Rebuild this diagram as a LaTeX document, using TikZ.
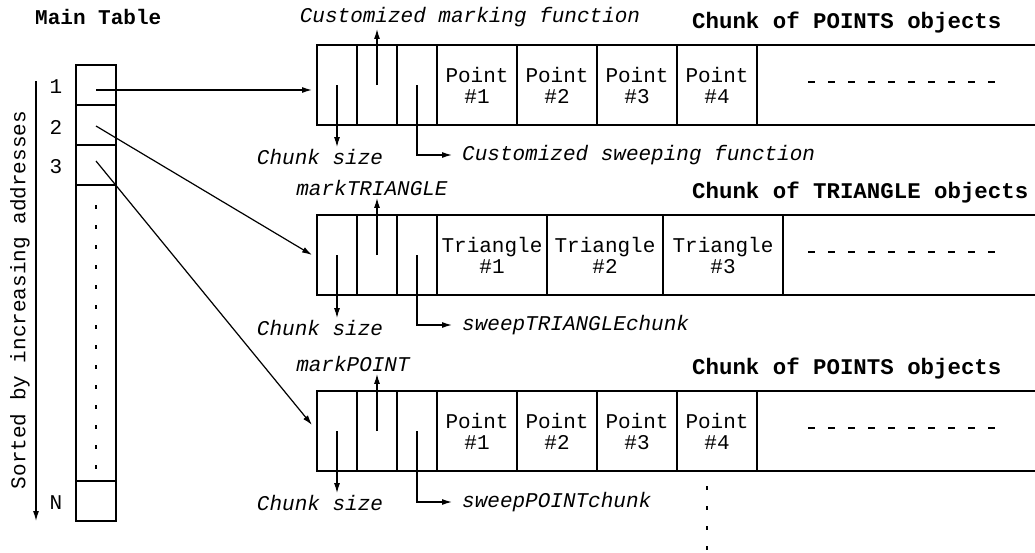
\documentclass[tikz,border=0pt]{standalone}
\usepackage{fontspec}
\setmonofont{Liberation Mono}
\usetikzlibrary{calc, arrows.meta}

\tikzset{
	tcell/.style = {draw, line width=1.2pt, minimum width=40pt, inner sep=0pt, outer sep=0pt},
	hcell/.style = {draw, line width=1.2pt, minimum width=40pt, minimum height=80pt, inner sep=0pt, outer sep=0pt},
	ocell/.style = {draw, line width=2.8pt, minimum height=80pt, inner sep=0pt, outer sep=0pt, align=center, font=\ttfamily\fontsize{21}{21}\selectfont},
	lbl/.style = {font=\ttfamily\itshape\fontsize{21}{21}\selectfont, inner sep=2pt},
	num/.style = {font=\ttfamily\fontsize{21}{21}\selectfont, inner sep=0pt},
	ttl/.style = {font=\ttfamily\bfseries\fontsize{22.4}{22}\selectfont, anchor=west, inner sep=0pt},
	ptr/.style = {-{Latex[length=10pt, width=6pt]}, line width=1.2pt},
	dotline/.style = {line width=2.5pt, dash pattern=on 4pt off 16pt},
	dashline/.style = {line width=2.6pt, dash pattern=on 7pt off 13pt},
}

\begin{document}
\begin{tikzpicture}[x=1pt, y=-1pt]
	\useasboundingbox (0,0) rectangle (1035,552);

	\node[ttl, font=\ttfamily\bfseries\fontsize{21}{21}\selectfont] (maintitle) at (35,17) {Main Table};

	\node[tcell, minimum height=40pt] (t1) at (96,85) {};
	\node[tcell, minimum height=40pt] (t2) at (96,125) {};
	\node[tcell, minimum height=40pt] (t3) at (96,165) {};
	\node[tcell, minimum height=296pt] (tdots) at (96,333) {};
	\node[tcell, minimum height=40pt] (tN) at (96,501) {};
	\draw[dotline] (96,205) -- (96,472);

	\node[num] (n1) at (56,87) {1};
	\node[num] (n2) at (56,127) {2};
	\node[num] (n3) at (56,167) {3};
	\node[num] (nN) at (56,503) {N};

	\coordinate (sorttop) at (36,81);
	\coordinate (sortbot) at (36,521);
	\draw[ptr] (sorttop) -- (sortbot);
	\node[num, rotate=90] (sortlbl) at (20,300) {Sorted by increasing addresses};

	% chunk of points
	\node[ttl] (title1) at (692,23) {Chunk of POINTS objects};
	\foreach \i in {1,2,3}
		\node[hcell] (ha\i) at ({297+40*\i}, 85) {};
	\foreach \i in {1,...,4}
		\node[ocell, minimum width=80pt] (pa\i) at ({397+80*\i}, 85) {Point\\\#\i};
	\draw[line width=2.8pt] (pa4.north east) -- (1037,45);
	\draw[line width=2.8pt] (pa4.south east) -- (1037,125);
	\draw[dashline] (808,82) -- (1000,82);

	\node[lbl] (sz1) at (320,157) {Chunk size};
	\node[lbl] (mk1) at (470,17) {Customized marking function};
	\node[lbl, anchor=west, inner xsep=10pt] (sw1) at (452,155) {Customized sweeping function};
	\draw[ptr] (ha1.center) -- (ha1.center |- sz1.north);
	\draw[ptr] (ha2.center) -- (ha2.center |- mk1.south);
	\draw[ptr] (ha3.center) |- (sw1.west);

	% chunk of triangles
	\node[ttl] (title2) at (692,193) {Chunk of TRIANGLE objects};
	\foreach \i in {1,2,3}
		\node[hcell] (hb\i) at ({297+40*\i}, 255) {};
	\node[ocell, minimum width=110pt] (tb1) at (492,255) {Triangle\\\#1};
	\node[ocell, minimum width=116pt] (tb2) at (605,255) {Triangle\\\#2};
	\node[ocell, minimum width=120pt] (tb3) at (723,255) {Triangle\\\#3};
	\draw[line width=2.8pt] (tb3.north east) -- (1037,215);
	\draw[line width=2.8pt] (tb3.south east) -- (1037,295);
	\draw[dashline] (808,252) -- (1000,252);

	\node[lbl] (sz2) at (320,328) {Chunk size};
	\node[lbl] (mk2) at (372,188) {markTRIANGLE};
	\node[lbl, anchor=west, inner xsep=10pt] (sw2) at (452,325) {sweepTRIANGLEchunk};
	\draw[ptr] (hb1.center) -- (hb1.center |- sz2.north);
	\draw[ptr] (hb2.center) -- (hb2.center |- mk2.south);
	\draw[ptr] (hb3.center) |- (sw2.west);

	% chunk of points again
	\node[ttl] (title3) at (692,369) {Chunk of POINTS objects};
	\foreach \i in {1,2,3}
		\node[hcell] (hc\i) at ({297+40*\i}, 431) {};
	\foreach \i in {1,...,4}
		\node[ocell, minimum width=80pt] (pc\i) at ({397+80*\i}, 431) {Point\\\#\i};
	\draw[line width=2.8pt] (pc4.north east) -- (1037,391);
	\draw[line width=2.8pt] (pc4.south east) -- (1037,471);
	\draw[dashline] (808,428) -- (1000,428);
	\draw[dotline] (707,486) -- (707,556);

	\node[lbl] (sz3) at (320,503) {Chunk size};
	\node[lbl] (mk3) at (353,364) {markPOINT};
	\node[lbl, anchor=west, inner xsep=10pt] (sw3) at (452,502) {sweepPOINTchunk};
	\draw[ptr] (hc1.center) -- (hc1.center |- sz3.north);
	\draw[ptr] (hc2.center) -- (hc2.center |- mk3.south);
	\draw[ptr] (hc3.center) |- (sw3.west);

	% table entries to chunks
	\draw[ptr] ([yshift=-5pt]t1.center) -- ([xshift=-5pt, yshift=-5pt]ha1.west);
	\draw[ptr] ([yshift=-1pt]t2.center) -- ([xshift=-5pt]hb1.west);
	\draw[ptr] ([yshift=4pt]t3.center) -- ([xshift=-5pt, yshift=6pt]hc1.west);
\end{tikzpicture}
\end{document}
